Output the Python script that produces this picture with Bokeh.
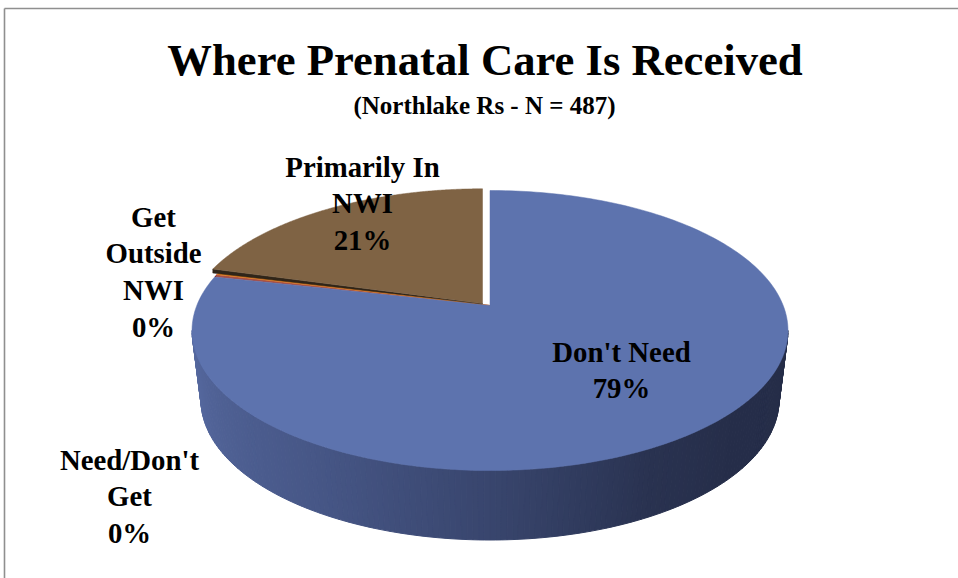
import numpy as np
from bokeh.plotting import figure
from bokeh.embed import file_html
from bokeh.resources import INLINE
from bokeh.core.properties import value

# Data
title_text = "Where Prenatal Care Is Received"
subtitle_text = "(Northlake Rs - N = 487)"
categories = ["Don't Need", "Need/Don't Get", "Get Outside NWI", "Primarily In NWI"]
shares = [78.51, 0.3, 0.49, 20.7]
colors = ["#5d73ae", "#a5504a", "#e07b1a", "#7f6344"]
label_lines = [["Don't Need"], ["Need/Don't", "Get"], ["Get", "Outside", "NWI"], ["Primarily In", "NWI"]]
label_center_x = [621, 129, 153, 362]
label_first_y = [351, 459, 216, 166]
LINE_STEP = 36.7

SERIF = "Liberation Serif"

W, H = 958, 578
p = figure(width=W, height=H, x_range=(0, W), y_range=(H, 0), output_backend="svg",
           toolbar_location=None, min_border=0, outline_line_color=None,
           background_fill_color="white", border_fill_color="white")
p.axis.visible = False
p.grid.visible = False

# Chart frame
p.segment([4, 4], [8, 8], [4, 958], [578, 8], line_color="#8f8f8f", line_width=1.6)

# Perspective projection of the unit circle on the pie's top face
AX, AY = 489.5, 305.0
C = 293.2
B = -81.07
K = 0.1786

def top_xy(theta, ax=AX, ay=AY):
    u, v = np.sin(theta), np.cos(theta)
    w = 1 + K * v
    return ax + C * u / w, (ay + B * v) / w

# Slice angles from the values (clockwise from 12 o'clock)
edges = np.cumsum([0] + shares) / sum(shares) * 2 * np.pi

# Side wall of the large slice
TOP_CX, TOP_CY, TOP_RX, TOP_RY = 489.5, 330.0, 298.0, 140.0
BOT_CX, BOT_CY, BOT_RX, BOT_RY = 489.5, 399.5, 289.0, 140.0
stops_x = [0.0, 0.12, 0.30, 0.50, 0.68, 0.80, 1.0]
stops_c = [(0x58, 0x6b, 0xa2), (0x50, 0x62, 0x96), (0x47, 0x57, 0x87),
           (0x39, 0x46, 0x6e), (0x2a, 0x33, 0x51), (0x26, 0x2e, 0x4a), (0x25, 0x2d, 0x48)]
n = 160
ts = np.linspace(np.pi, 0, n + 1)
xs_list, ys_list, cols = [], [], []
for i in range(n):
    t0, t1 = ts[i], ts[i + 1]
    xs_list.append([TOP_CX + TOP_RX * np.cos(t0), TOP_CX + TOP_RX * np.cos(t1),
                    BOT_CX + BOT_RX * np.cos(t1), BOT_CX + BOT_RX * np.cos(t0)])
    ys_list.append([TOP_CY + TOP_RY * np.sin(t0), TOP_CY + TOP_RY * np.sin(t1),
                    BOT_CY + BOT_RY * np.sin(t1), BOT_CY + BOT_RY * np.sin(t0)])
    f = i / (n - 1)
    rgb = [int(np.interp(f, stops_x, [c[k] for c in stops_c])) for k in range(3)]
    cols.append("#%02x%02x%02x" % tuple(rgb))
p.patches(xs_list, ys_list, fill_color=cols, line_color=cols, line_width=1)

def wedge(a0, a1, ax=AX, ay=AY, steps=240):
    th = np.linspace(a0, a1, steps)
    x, y = top_xy(th, ax, ay)
    return [ax] + list(x), [ay] + list(y)

# Thin slices, the large slice, then the exploded slice's cut wall and its top
for i in (1, 2):
    x, y = wedge(edges[i], edges[i + 1])
    p.patch(x, y, fill_color=colors[i], line_color=colors[i], line_width=0.5)

x, y = wedge(edges[0], edges[1])
p.patch(x, y, fill_color=colors[0], line_color=colors[0], line_width=0.5)

BX, BY = 482.0, 303.0
DEPTH = 4
rx, ry = top_xy(edges[3], BX, BY)
p.patch([BX, float(rx), float(rx), BX], [BY, float(ry), float(ry) + DEPTH, BY + 0.5],
        fill_color="#2f2519", line_color="#2f2519", line_width=0.5)

x, y = wedge(edges[3], edges[4], BX, BY)
p.patch(x, y, fill_color=colors[3], line_color=colors[3], line_width=0.5)

# Texts
bold = dict(text_font=value(SERIF), text_font_style="bold", text_color="#000000",
            text_align="center", text_baseline="middle")
p.text([484.5], [59], text=[title_text], text_font_size="44.7px", **bold)
p.text([484], [105], text=[subtitle_text], text_font_size="25px", **bold)

for i in range(len(categories)):
    rows = label_lines[i] + ["%d%%" % round(shares[i])]
    ys = [label_first_y[i] + j * LINE_STEP for j in range(len(rows))]
    p.text([label_center_x[i]] * len(rows), ys, text=rows, text_font_size="28.8px", **bold)

open("out.html", "w").write(file_html(p, INLINE))
